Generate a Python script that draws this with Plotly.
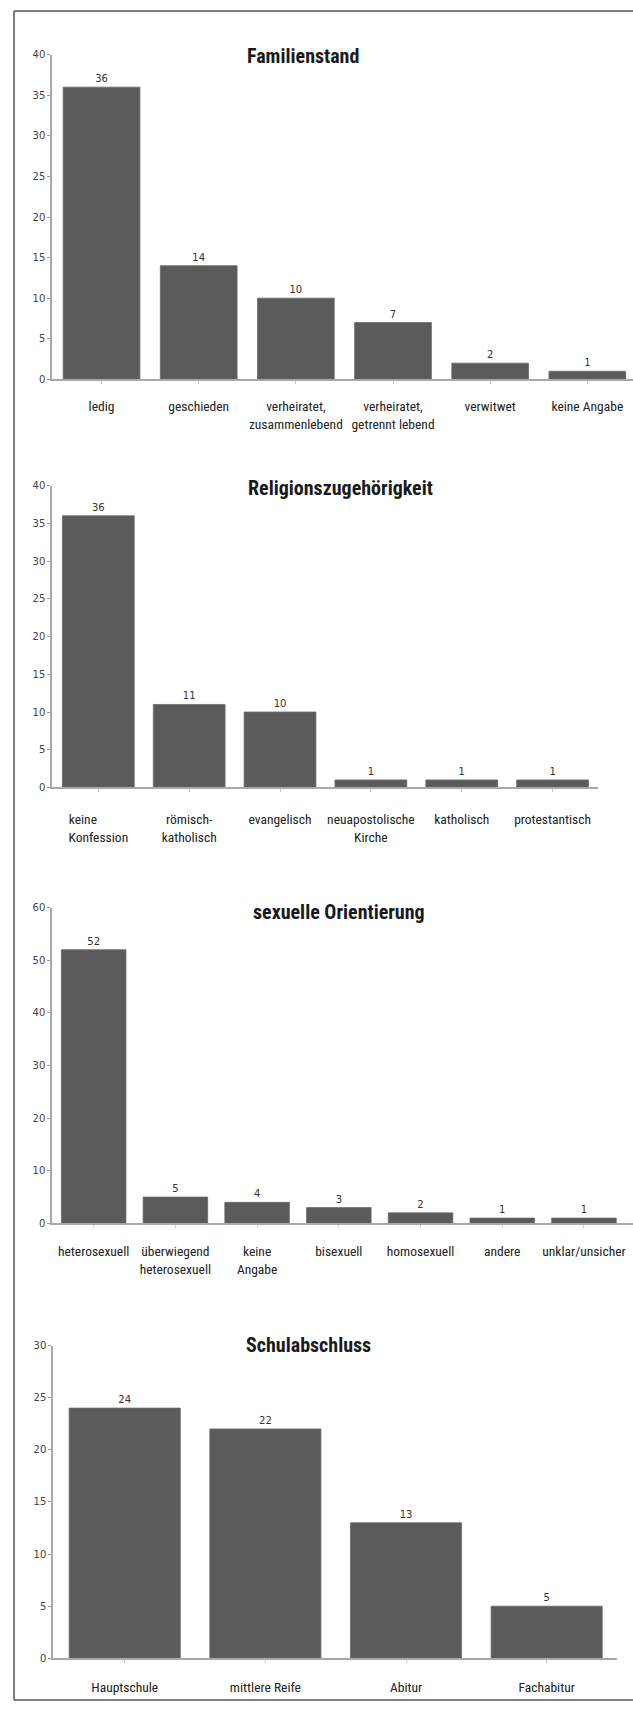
import plotly.graph_objects as go

# ---------------- data ----------------
fam_title = "Familienstand"
fam_cats = ["ledig", "geschieden", "verheiratet,<br>zusammenlebend",
            "verheiratet,<br>getrennt lebend", "verwitwet", "keine Angabe"]
fam_vals = [36, 14, 10, 7, 2, 1]
fam_ticks = [0, 5, 10, 15, 20, 25, 30, 35, 40]

rel_title = "Religionszugehörigkeit"
rel_cats = ["keine" + "\u00a0" * 10 + "<br>Konfession", "römisch-<br>katholisch", "evangelisch",
            "neuapostolische<br>Kirche", "katholisch", "protestantisch"]
rel_vals = [36, 11, 10, 1, 1, 1]
rel_ticks = [0, 5, 10, 15, 20, 25, 30, 35, 40]

sex_title = "sexuelle Orientierung"
sex_cats = ["heterosexuell", "überwiegend<br>heterosexuell", "keine<br>Angabe",
            "bisexuell", "homosexuell", "andere", "unklar/unsicher"]
sex_vals = [52, 5, 4, 3, 2, 1, 1]
sex_ticks = [0, 10, 20, 30, 40, 50, 60]

sch_title = "Schulabschluss"
sch_cats = ["Hauptschule", "mittlere Reife", "Abitur", "Fachabitur"]
sch_vals = [24, 22, 13, 5]
sch_ticks = [0, 5, 10, 15, 20, 25, 30]

# ---------------- layout geometry (pixels) ----------------
W, H = 633, 1709


def fx(px):
    return px / W


def fy(px):
    return 1 - px / H


charts = [
    dict(cats=fam_cats, vals=fam_vals, ticks=fam_ticks, title=fam_title,
         xdom=(52, 633), xr=(-0.51, 5.47), ydom=(49, 376), title_xy=(303, 50),
         standoff=11),
    dict(cats=rel_cats, vals=rel_vals, ticks=rel_ticks, title=rel_title,
         xdom=(52, 598), xr=(-0.51, 5.5), ydom=(483, 787), title_xy=(340, 485),
         standoff=16),
    dict(cats=sex_cats, vals=sex_vals, ticks=sex_ticks, title=sex_title,
         xdom=(52, 633), xr=(-0.51, 6.6), ydom=(908, 1226), title_xy=(339, 912),
         standoff=12),
    dict(cats=sch_cats, vals=sch_vals, ticks=sch_ticks, title=sch_title,
         xdom=(53, 617), xr=(-0.51, 3.5), ydom=(1349, 1664), title_xy=(308, 1348),
         standoff=13),
]

BAR = "#5b5b5b"
AXIS = "#a8a8a8"
COND = "Roboto Condensed, DejaVu Sans Condensed, sans-serif"

fig = go.Figure()
layout = dict(
    width=W, height=H,
    margin=dict(l=0, r=0, t=0, b=0),
    paper_bgcolor="white", plot_bgcolor="white",
    showlegend=False, bargap=0.21,
    annotations=[], shapes=[],
)

for i, c in enumerate(charts):
    n = "" if i == 0 else str(i + 1)
    xa, ya = "x" + n, "y" + n
    fig.add_trace(go.Bar(
        x=c["cats"], y=c["vals"], xaxis=xa, yaxis=ya,
        text=[str(v) for v in c["vals"]], textposition="outside",
        textfont=dict(family="DejaVu Sans", size=10, color="#333333"),
        cliponaxis=False,
        marker=dict(color=BAR, line=dict(color="#6a6a6a", width=0.8)),
        hoverinfo="skip",
    ))
    layout["xaxis" + n] = dict(
        domain=[fx(c["xdom"][0]), fx(c["xdom"][1])],
        range=list(c["xr"]), type="category", anchor=ya,
        showline=True, linecolor=AXIS, linewidth=1.5,
        ticks="outside", ticklen=3, tickcolor="#c8c8c8", tickwidth=1,
        tickfont=dict(family=COND, size=13.5, color="#222222"),
        ticklabelstandoff=c["standoff"],
        showgrid=False, zeroline=False, fixedrange=True,
    )
    layout["yaxis" + n] = dict(
        domain=[fy(c["ydom"][1]), fy(c["ydom"][0])],
        range=[0, c["ticks"][-1]], anchor=xa,
        tickvals=c["ticks"],
        showline=True, linecolor=AXIS, linewidth=1.5,
        ticks="outside", ticklen=3, tickcolor="#999999", tickwidth=1,
        tickfont=dict(family="DejaVu Sans", size=10, color="#444444"),
        showgrid=False, zeroline=False, fixedrange=True,
    )
    layout["annotations"].append(dict(
        text="<b>" + c["title"] + "</b>", showarrow=False,
        xref="paper", yref="paper",
        x=fx(c["title_xy"][0]), y=fy(c["title_xy"][1]),
        xanchor="center", yanchor="middle",
        font=dict(family=COND, size=20, color="#1a1a1a"),
    ))

# frame around the page
FR = "#555555"
for (x0, y0, x1, y1) in [(14, 5, 14, 1706), (14, 5, 640, 5), (14, 1706, 640, 1706)]:
    layout["shapes"].append(dict(
        type="line", xref="paper", yref="paper",
        x0=fx(x0), y0=fy(y0), x1=fx(x1), y1=fy(y1),
        line=dict(color=FR, width=1.5),
    ))

fig.update_layout(**layout)
fig.write_html(
    "out.html",
    config={"displayModeBar": False},
    post_script="document.body.style.margin='0';document.body.style.overflow='hidden';",
)
